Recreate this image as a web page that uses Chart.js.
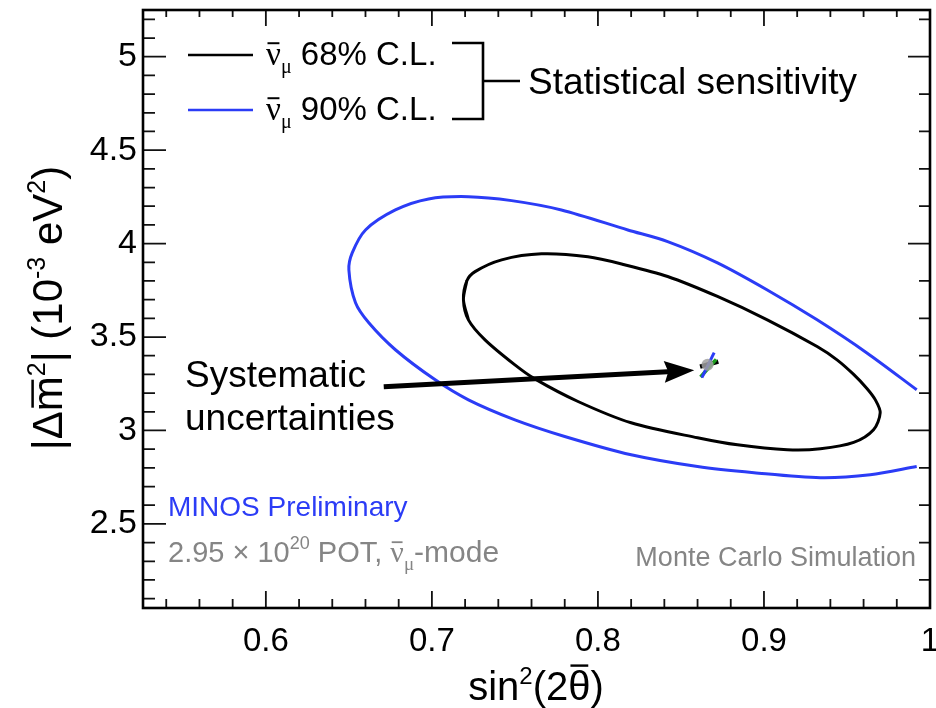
<!DOCTYPE html>
<html>
<head>
<meta charset="UTF-8">
<title>MINOS antineutrino sensitivity</title>
<script src="https://cdn.jsdelivr.net/npm/chart.js"></script>
<style>
  html, body { margin: 0; padding: 0; background: #fff; }
</style>
</head>
<body>
<canvas id="myChart" width="936" height="708"></canvas>
<script>
// 90% C.L. contour, open at the physical boundary sin^2 = 1
const cl90X = [0.992, 0.962, 0.932, 0.902, 0.872, 0.842, 0.818, 0.778, 0.748, 0.722, 0.698, 0.678, 0.660, 0.652,
               0.650, 0.654, 0.662, 0.678, 0.702, 0.722, 0.750, 0.780, 0.820, 0.860, 0.894, 0.934, 0.964, 0.992];
const cl90Y = [3.218, 3.415, 3.592, 3.752, 3.897, 4.011, 4.073, 4.180, 4.230, 4.251, 4.239, 4.180, 4.073, 3.950,
               3.859, 3.683, 3.576, 3.432, 3.271, 3.164, 3.057, 2.968, 2.870, 2.807, 2.774, 2.747, 2.763, 2.807];

// 68% C.L. contour (closed, starts at its leftmost point)
const cl68X = [0.719, 0.722, 0.732, 0.750, 0.762, 0.788, 0.820, 0.860, 0.884, 0.914, 0.934, 0.954, 0.966, 0.970,
               0.967, 0.962, 0.954, 0.944, 0.932, 0.902, 0.872, 0.842, 0.816, 0.794, 0.766, 0.742, 0.726, 0.721, 0.719];
const cl68Y = [3.699, 3.592, 3.485, 3.351, 3.276, 3.155, 3.041, 2.961, 2.923, 2.897, 2.902, 2.936, 3.004, 3.095,
               3.165, 3.225, 3.300, 3.378, 3.449, 3.592, 3.717, 3.824, 3.887, 3.929, 3.945, 3.913, 3.850, 3.800, 3.699];

// systematic shifts around the input point
const bestFit = { x: 0.866, y: 3.352 };
const sysBlueX = [0.8626, 0.8700];
const sysBlueY = [3.283, 3.417];
const sysGreenX = [0.8618, 0.8712];
const sysGreenY = [3.286, 3.380];
const sysBlackX = [0.8615, 0.8725];
const sysBlackY = [3.342, 3.368];

const xTickVals = [0.6, 0.7, 0.8, 0.9, 1];
const yTickVals = [2.5, 3, 3.5, 4, 4.5, 5];
const xMin = 0.526, xMax = 1.0;
const yMin = 2.05, yMax = 5.25;

// arrow for "Systematic uncertainties" (data units)
const arrowFrom = { x: 0.671, y: 3.234 };
const arrowTo = { x: 0.858, y: 3.322 };

const FONT = '"Liberation Sans", Arial, Helvetica, sans-serif';
const GREEK = '"Liberation Serif", "Times New Roman", serif';
const BLUE = '#2b3cf6';

function zip(xs, ys) {
    return xs.map(function (x, i) { return { x: x, y: ys[i] }; });
}

// closed curve: repeat a neighbour on each side so the seam gets smooth tangents
function closedLoop(pts) {
    var n = pts.length;
    return [pts[n - 2]].concat(pts).concat([pts[1]]);
}

function lineSet(pts, color, width, tension) {
    return {
        data: pts, showLine: true, borderColor: color, borderWidth: width,
        pointRadius: 0, tension: tension, fill: false
    };
}

// draws a list of text pieces (with sub/superscripts and bars) on one baseline
function richText(ctx, x, y, parts, align) {
    var total = 0;
    parts.forEach(function (p) {
        ctx.font = p.size + 'px ' + (p.fam || FONT);
        p.w = ctx.measureText(p.t).width;
        total += p.w;
    });
    var cx = x;
    if (align === 'center') cx = x - total / 2;
    if (align === 'right') cx = x - total;
    parts.forEach(function (p) {
        ctx.font = p.size + 'px ' + (p.fam || FONT);
        var yy = y + (p.dy || 0);
        ctx.fillText(p.t, cx, yy);
        if (p.bar) {
            ctx.save();
            ctx.strokeStyle = ctx.fillStyle;
            ctx.lineWidth = Math.max(1.5, p.size * 0.06);
            ctx.beginPath();
            ctx.moveTo(cx + p.w * 0.1, yy - p.size * p.bar);
            ctx.lineTo(cx + p.w * 0.9, yy - p.size * p.bar);
            ctx.stroke();
            ctx.restore();
        }
        cx += p.w;
    });
}

function nubar(size) {
    return [
        { t: 'ν', size: size, bar: 0.66, fam: GREEK },
        { t: 'μ', size: Math.round(size * 0.62), dy: size * 0.25, fam: GREEK }
    ];
}

const decorations = {
    id: 'decorations',
    afterDraw: function (chart) {
        var ctx = chart.ctx;
        var a = chart.chartArea;
        var xs = chart.scales.x, ys = chart.scales.y;
        ctx.save();
        ctx.textBaseline = 'alphabetic';
        ctx.textAlign = 'left';

        // ticks on all four sides, pointing inwards
        ctx.strokeStyle = '#111';
        ctx.lineWidth = 1.8;
        ctx.beginPath();
        var v, px, py, major, i;
        for (i = 21; i <= 52; i++) {
            v = i / 10;
            py = ys.getPixelForValue(v);
            major = (i % 5 === 0);
            ctx.moveTo(a.left, py); ctx.lineTo(a.left + (major ? 23 : 12), py);
        }
        for (i = 11; i <= 26; i++) {
            v = i / 5;
            py = ys.getPixelForValue(v);
            major = (i % 5 === 0);
            ctx.moveTo(a.right, py); ctx.lineTo(a.right - (major ? 22 : 11), py);
        }
        for (i = 27; i <= 50; i++) {
            v = i / 50;
            px = xs.getPixelForValue(v);
            major = (i % 5 === 0);
            ctx.moveTo(px, a.bottom); ctx.lineTo(px, a.bottom - (major ? 17 : 9));
            ctx.moveTo(px, a.top); ctx.lineTo(px, a.top + (major ? 16 : 7));
        }
        ctx.stroke();

        // frame
        ctx.strokeStyle = '#000';
        ctx.lineWidth = 2.6;
        ctx.strokeRect(a.left, a.top, a.right - a.left, a.bottom - a.top);

        // legend
        ctx.fillStyle = '#000';
        ctx.lineWidth = 2.6;
        ctx.strokeStyle = '#000';
        ctx.beginPath(); ctx.moveTo(188, 55); ctx.lineTo(253, 55); ctx.stroke();
        ctx.strokeStyle = BLUE;
        ctx.beginPath(); ctx.moveTo(188, 110); ctx.lineTo(253, 110); ctx.stroke();
        richText(ctx, 266, 65, nubar(33).concat([{ t: ' 68% C.L.', size: 33 }]));
        richText(ctx, 266, 120, nubar(33).concat([{ t: ' 90% C.L.', size: 33 }]));

        // bracket
        ctx.strokeStyle = '#000';
        ctx.lineWidth = 2.6;
        ctx.beginPath();
        ctx.moveTo(452, 43); ctx.lineTo(483, 43); ctx.lineTo(483, 119); ctx.lineTo(452, 119);
        ctx.moveTo(483, 81); ctx.lineTo(520, 81);
        ctx.stroke();
        ctx.font = '37px ' + FONT;
        ctx.fillText('Statistical sensitivity', 528, 94);

        // systematic uncertainties label and arrow
        ctx.fillText('Systematic', 185, 387);
        ctx.fillText('uncertainties', 185, 430);
        var ax0 = xs.getPixelForValue(arrowFrom.x), ay0 = ys.getPixelForValue(arrowFrom.y);
        var ax1 = xs.getPixelForValue(arrowTo.x), ay1 = ys.getPixelForValue(arrowTo.y);
        var ang = Math.atan2(ay1 - ay0, ax1 - ax0);
        var hl = 26, hw = 11;
        var bx = ax1 - hl * Math.cos(ang), by = ay1 - hl * Math.sin(ang);
        ctx.lineWidth = 5;
        ctx.beginPath(); ctx.moveTo(ax0, ay0); ctx.lineTo(bx + 4 * Math.cos(ang), by + 4 * Math.sin(ang)); ctx.stroke();
        ctx.beginPath();
        ctx.moveTo(ax1, ay1);
        ctx.lineTo(bx - hw * Math.sin(ang) - 4 * Math.cos(ang), by + hw * Math.cos(ang) - 4 * Math.sin(ang));
        ctx.lineTo(bx, by);
        ctx.lineTo(bx + hw * Math.sin(ang) - 4 * Math.cos(ang), by - hw * Math.cos(ang) - 4 * Math.sin(ang));
        ctx.closePath();
        ctx.fill();

        // experiment labels
        ctx.fillStyle = BLUE;
        ctx.font = '28px ' + FONT;
        ctx.fillText('MINOS Preliminary', 168, 516);
        ctx.fillStyle = '#858585';
        richText(ctx, 168, 562, [
            { t: '2.95 × 10', size: 29 },
            { t: '20', size: 18, dy: -13 },
            { t: ' POT, ', size: 29 }
        ].concat(nubar(30)).concat([{ t: '-mode', size: 30 }]));
        ctx.font = '27px ' + FONT;
        ctx.textAlign = 'right';
        ctx.fillText('Monte Carlo Simulation', 916, 566);
        ctx.textAlign = 'left';

        // axis titles
        ctx.fillStyle = '#000';
        richText(ctx, 536, 700, [
            { t: 'sin', size: 40 },
            { t: '2', size: 24, dy: -16 },
            { t: '(2', size: 40 },
            { t: 'θ', size: 40, bar: 0.86 },
            { t: ')', size: 40 }
        ], 'center');
        ctx.save();
        ctx.translate(62, 308);
        ctx.rotate(-Math.PI / 2);
        richText(ctx, 0, 0, [
            { t: '|Δ', size: 42 },
            { t: 'm', size: 42, bar: 0.7 },
            { t: '2', size: 25, dy: -17 },
            { t: '| (10', size: 42 },
            { t: '-3', size: 25, dy: -17 },
            { t: ' eV', size: 42 },
            { t: '2', size: 25, dy: -17 },
            { t: ')', size: 42 }
        ], 'center');
        ctx.restore();

        ctx.restore();
    }
};

var ctx = document.getElementById('myChart').getContext('2d');
var myChart = new Chart(ctx, {
    type: 'scatter',
    data: {
        datasets: [
            lineSet(zip(cl90X, cl90Y), BLUE, 3, 0.3),
            lineSet(closedLoop(zip(cl68X, cl68Y)), '#000', 3, 0.3),
            {
                data: [bestFit], showLine: false, pointRadius: 6, pointBorderWidth: 0,
                pointBackgroundColor: 'rgba(160,160,160,0.85)'
            },
            lineSet(zip(sysBlueX, sysBlueY), BLUE, 3, 0),
            lineSet(zip(sysGreenX, sysGreenY), '#1e9e1e', 3.5, 0),
            lineSet(zip(sysBlackX, sysBlackY), '#000', 4.5, 0),
            {
                data: [bestFit], showLine: false, pointRadius: 2.5, pointBorderWidth: 0,
                pointBackgroundColor: '#c040c0'
            }
        ]
    },
    options: {
        responsive: false,
        animation: false,
        layout: { padding: { top: 10, right: 5, left: 0, bottom: 0 } },
        plugins: {
            legend: { display: false },
            tooltip: { enabled: false }
        },
        scales: {
            x: {
                type: 'linear', min: xMin, max: xMax,
                afterBuildTicks: function (s) { s.ticks = xTickVals.map(function (v) { return { value: v }; }); },
                afterFit: function (s) {
                    s.height = 100;
                    s.paddingLeft = 0; s.paddingRight = 0; s.paddingTop = 0; s.paddingBottom = 0;
                },
                grid: { display: false, drawTicks: false },
                border: { display: false },
                ticks: {
                    padding: 14, color: '#000', maxRotation: 0, autoSkip: false,
                    font: { family: FONT, size: 33 },
                    callback: function (v) { return String(v); }
                }
            },
            y: {
                type: 'linear', min: yMin, max: yMax,
                afterBuildTicks: function (s) { s.ticks = yTickVals.map(function (v) { return { value: v }; }); },
                afterFit: function (s) {
                    s.width = 143;
                    s.paddingLeft = 0; s.paddingRight = 0; s.paddingTop = 0; s.paddingBottom = 0;
                },
                grid: { display: false, drawTicks: false },
                border: { display: false },
                ticks: {
                    padding: 6, color: '#000', autoSkip: false,
                    font: { family: FONT, size: 34 },
                    callback: function (v) { return String(v); }
                }
            }
        }
    },
    plugins: [decorations]
});
</script>
</body>
</html>
